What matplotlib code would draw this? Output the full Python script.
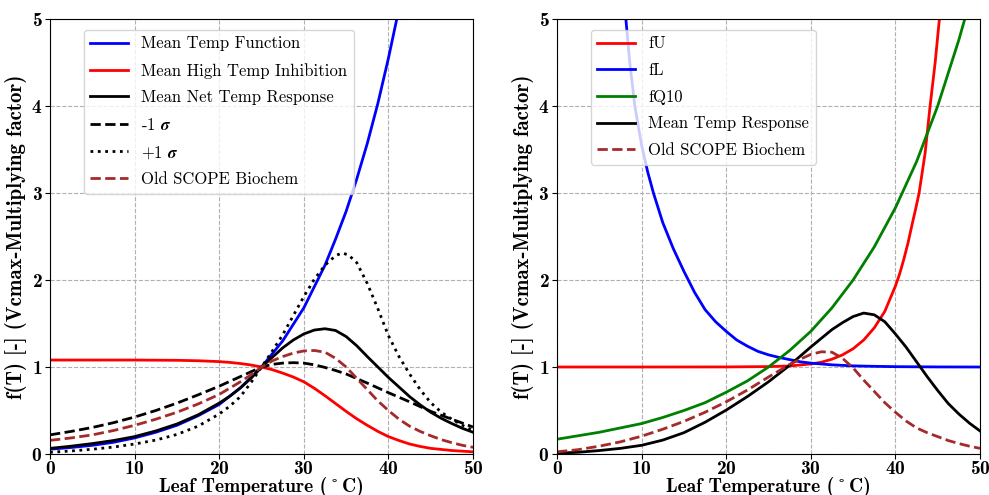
import matplotlib
matplotlib.use("Agg")
import matplotlib.pyplot as plt

plt.rcParams['font.family'] = 'cmr10'
plt.rcParams['mathtext.fontset'] = 'cm'
plt.rcParams['axes.formatter.use_mathtext'] = True

# ---- left panel: mean / +-1 sigma responses ----
T_temp_func = [0, 2.5, 5, 7.5, 10, 12.5, 15, 17.5, 20, 22.5, 25, 27.5, 30, 32.5,
               33.75, 35, 36.25, 37.5, 38.75, 40, 41.25, 42.5]
temp_func = [0.055, 0.075, 0.10, 0.135, 0.185, 0.25, 0.33, 0.44, 0.57, 0.76, 1.0,
             1.30, 1.68, 2.17, 2.47, 2.79, 3.16, 3.57, 4.03, 4.55, 5.12, 5.75]

T_inhib = [0, 5, 10, 15, 17.5, 20, 21.25, 22.5, 23.75, 25, 26.25, 27.5, 28.75, 30,
           31.25, 32.5, 33.75, 35, 36.25, 37.5, 38.75, 40, 41.25, 42.5, 43.75,
           45, 47.5, 50]
high_inhib = [1.08, 1.08, 1.08, 1.077, 1.072, 1.062, 1.053, 1.04, 1.023, 1.0,
              0.97, 0.93, 0.885, 0.83, 0.755, 0.67, 0.58, 0.49, 0.405, 0.33,
              0.26, 0.20, 0.155, 0.115, 0.087, 0.065, 0.04, 0.025]

T_net = [0, 2.5, 5, 7.5, 10, 12.5, 15, 17.5, 20, 21.25, 22.5, 23.75, 25, 26.25,
         27.5, 28.75, 30, 31.25, 32.5, 33.75, 35, 36.25, 37.5, 38.75, 40, 41.25,
         42.5, 43.75, 45, 46.25, 47.5, 48.75, 50]
net_resp = [0.065, 0.09, 0.12, 0.155, 0.20, 0.265, 0.345, 0.45, 0.585, 0.665,
            0.76, 0.87, 1.0, 1.11, 1.22, 1.31, 1.38, 1.425, 1.44, 1.42, 1.35,
            1.245, 1.12, 1.0, 0.88, 0.77, 0.66, 0.565, 0.48, 0.41, 0.35, 0.295,
            0.25]

T_minus = [0, 2.5, 5, 7.5, 10, 12.5, 15, 17.5, 20, 22.5, 25, 26.25, 27.5, 28.75,
           30, 31.25, 32.5, 33.75, 35, 37.5, 40, 42.5, 45, 47.5, 50]
minus_sigma = [0.22, 0.26, 0.305, 0.36, 0.425, 0.50, 0.585, 0.68, 0.78, 0.89,
               1.0, 1.03, 1.045, 1.05, 1.045, 1.025, 0.995, 0.96, 0.92, 0.815,
               0.705, 0.60, 0.49, 0.40, 0.31]

T_plus = [0, 2.5, 5, 7.5, 10, 12.5, 15, 17.5, 20, 21.25, 22.5, 23.75, 25, 26.25,
          27.5, 28.75, 30, 31.25, 32.5, 33.75, 34.5, 35.25, 36.25, 37.5, 38.75,
          40, 41.25, 42.5, 43.75, 45, 46.25, 47.5, 48.75, 50]
plus_sigma = [0.02, 0.035, 0.055, 0.08, 0.115, 0.16, 0.225, 0.32, 0.46, 0.55,
              0.66, 0.82, 1.0, 1.18, 1.37, 1.59, 1.81, 2.01, 2.17, 2.28, 2.31,
              2.29, 2.20, 1.96, 1.67, 1.36, 1.12, 0.92, 0.74, 0.59, 0.48, 0.40,
              0.33, 0.27]

T_old = [0, 2.5, 5, 7.5, 10, 12.5, 15, 17.5, 20, 22.5, 23.75, 25, 26.25, 27.5,
         28.75, 30, 31.25, 32.5, 33.75, 35, 36.25, 37.5, 38.75, 40, 41.25, 42.5,
         43.75, 45, 46.25, 47.5, 48.75, 50]
old_scope_left = [0.157, 0.185, 0.22, 0.27, 0.33, 0.40, 0.48, 0.575, 0.685, 0.83,
                  0.91, 1.0, 1.07, 1.12, 1.16, 1.185, 1.19, 1.17, 1.10, 1.0,
                  0.87, 0.74, 0.61, 0.50, 0.40, 0.32, 0.26, 0.21, 0.165, 0.13,
                  0.10, 0.077]

# ---- right panel: component functions ----
T_fU = [0, 10, 20, 25, 27.5, 30, 31.25, 32.5, 33.75, 35, 36.25, 37.5, 38.75, 40,
        40.5, 41, 41.5, 42, 42.4, 42.8, 43.5, 44.1, 44.7, 45.2, 45.6]
fU = [1.0, 1.0, 1.001, 1.005, 1.012, 1.035, 1.055, 1.09, 1.14, 1.21, 1.31, 1.45,
      1.64, 1.93, 2.07, 2.24, 2.43, 2.65, 2.82, 3.0, 3.45, 4.0, 4.5, 5.0, 5.5]

T_fL = [7.9, 8.14, 8.6, 9.2, 10, 10.7, 11.4, 12.5, 13.75, 15, 16.25, 17.5, 18.75,
        20, 21.25, 22.5, 23.75, 25, 26.25, 27.5, 28.75, 30, 32.5, 35, 37.5, 40,
        45, 50]
fL = [5.25, 5.0, 4.5, 4.0, 3.55, 3.25, 3.0, 2.66, 2.36, 2.1, 1.86, 1.66, 1.52,
      1.41, 1.31, 1.24, 1.18, 1.14, 1.11, 1.085, 1.06, 1.045, 1.025, 1.013, 1.008,
      1.004, 1.001, 1.0]

T_fQ10 = [0, 2.5, 5, 7.5, 10, 12.5, 15, 17.5, 20, 22.5, 25, 27.5, 30, 32.5, 35,
          37.5, 40, 42.5, 45, 47.5, 48.2, 50]
fQ10 = [0.17, 0.21, 0.25, 0.30, 0.35, 0.42, 0.50, 0.59, 0.71, 0.84, 1.0, 1.19,
        1.41, 1.68, 2.0, 2.38, 2.83, 3.36, 4.0, 4.76, 5.0, 5.6]

T_resp = [0, 2.5, 5, 7.5, 10, 12.5, 15, 17.5, 20, 22.5, 25, 27.5, 30, 31.25, 32.5,
          33.75, 35, 36.25, 37.5, 38.75, 40, 41.25, 42.5, 43.75, 45, 46.25, 47.5,
          48.75, 50]
mean_resp = [0.01, 0.02, 0.04, 0.065, 0.10, 0.16, 0.245, 0.365, 0.505, 0.66, 0.83,
             1.02, 1.23, 1.33, 1.43, 1.51, 1.58, 1.62, 1.60, 1.52, 1.38, 1.23,
             1.06, 0.89, 0.73, 0.58, 0.46, 0.355, 0.265]

T_old_r = [0, 2.5, 5, 7.5, 10, 12.5, 15, 17.5, 20, 22.5, 25, 27.5, 28.75, 30,
           31.25, 32.5, 33.75, 35, 36.25, 37.5, 38.75, 40, 41.25, 42.5, 43.75, 45,
           46.25, 47.5, 48.75, 50]
old_scope_right = [0.025, 0.05, 0.09, 0.14, 0.205, 0.285, 0.375, 0.48, 0.60,
                   0.735, 0.885, 1.03, 1.09, 1.145, 1.175, 1.17, 1.10, 0.99, 0.85,
                   0.72, 0.59, 0.48, 0.38, 0.30, 0.245, 0.20, 0.155, 0.12, 0.09,
                   0.065]

fig = plt.figure(figsize=(9.89, 4.95), dpi=100)
ax1 = fig.add_axes([0.0506, 0.0828, 0.4277, 0.8788])
ax2 = fig.add_axes([0.5632, 0.0828, 0.4277, 0.8788])

lw = 2.0
ax1.plot(T_temp_func, temp_func, color='b', lw=lw, label='Mean Temp Function')
ax1.plot(T_inhib, high_inhib, color='r', lw=lw, label='Mean High Temp Inhibition')
ax1.plot(T_net, net_resp, color='k', lw=lw, label='Mean Net Temp Response')
ax1.plot(T_minus, minus_sigma, color='k', ls='--', lw=lw,
         label=r'-1 $\mathbfit{\sigma}$')
ax1.plot(T_plus, plus_sigma, color='k', ls=':', lw=lw,
         label=r'+1 $\mathbfit{\sigma}$')
ax1.plot(T_old, old_scope_left, color='brown', ls='--', lw=lw, label='Old SCOPE Biochem')

ax2.plot(T_fU, fU, color='r', lw=lw, label='fU')
ax2.plot(T_fL, fL, color='b', lw=lw, label='fL')
ax2.plot(T_fQ10, fQ10, color='g', lw=lw, label='fQ10')
ax2.plot(T_resp, mean_resp, color='k', lw=lw, label='Mean Temp Response')
ax2.plot(T_old_r, old_scope_right, color='brown', ls='--', lw=lw, label='Old SCOPE Biochem')

# cmb10 keeps the TeX ring accent at U+00BA
deg = '\u00ba'

for ax in (ax1, ax2):
    ax.set_xlim(0, 50)
    ax.set_ylim(0, 5)
    ax.set_xticks([0, 10, 20, 30, 40, 50])
    ax.set_yticks([0, 1, 2, 3, 4, 5])
    ax.grid(True, ls='--', color='#b0b0b0', lw=0.8)
    for lab in ax.get_xticklabels() + ax.get_yticklabels():
        lab.set_family('cmb10')
        lab.set_fontsize(14)
    ax.tick_params(axis='x', pad=1)
    ax.tick_params(axis='y', pad=2)
    ax.set_xlabel('Leaf Temperature (' + deg + 'C)', family='cmb10',
                  fontsize=14, labelpad=-1)
    ax.set_ylabel('f(T) [-] (Vcmax-Multiplying factor)', family='cmb10',
                  fontsize=15, labelpad=3)
    leg = ax.legend(loc='upper left', bbox_to_anchor=(0.06, 0.995), fontsize=12,
                    handlelength=2.25, labelspacing=0.68)
    for t in leg.get_texts():
        t.set_math_fontfamily('stix')

fig.savefig('out.png', dpi=100)
